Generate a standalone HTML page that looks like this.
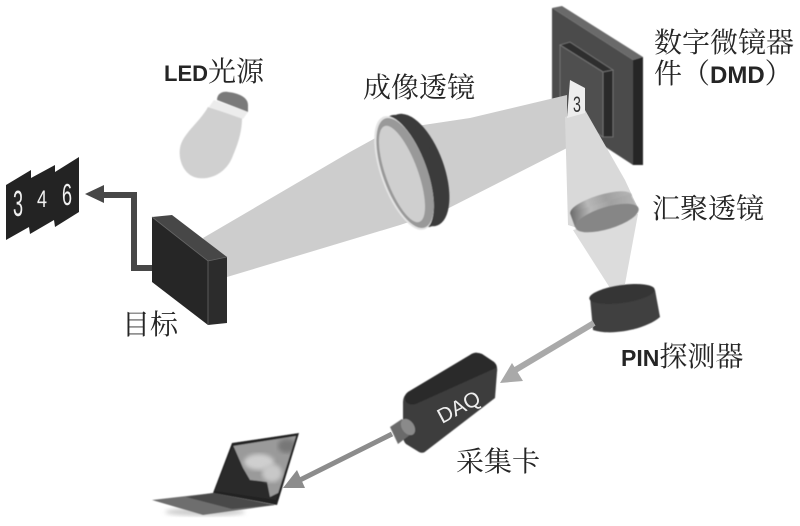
<!DOCTYPE html>
<html><head><meta charset="utf-8">
<style>
html,body{margin:0;padding:0;background:#fff;width:800px;height:526px;overflow:hidden}
svg{display:block}
.t{font-family:"Liberation Serif","Noto Serif CJK SC",serif;font-size:28px;fill:#252525}
.b{font-family:"Liberation Sans",sans-serif;font-weight:bold;fill:#252525}
</style></head>
<body>
<svg width="800" height="526" viewBox="0 0 800 526" xmlns="http://www.w3.org/2000/svg">
<defs>
<linearGradient id="lens" x1="0" y1="0" x2="1" y2="0"><stop offset="0" stop-color="#6a6a6a"/><stop offset=".3" stop-color="#b8b8b8"/><stop offset=".6" stop-color="#a0a0a0"/><stop offset="1" stop-color="#b5b5b5"/></linearGradient>
<filter id="bl"><feGaussianBlur stdDeviation="2"/></filter>
<filter id="s"><feGaussianBlur stdDeviation=".5"/></filter>
<clipPath id="sc"><polygon points="233,446 296,436 276,500 215,491"/></clipPath>
</defs>

<!-- DMD -->
<g filter="url(#s)">
<polygon points="552,8 562,6 643,57 633,60" fill="#6a6a6a"/>
<polygon points="552,8 633,60 633,165 552,112" fill="#4c4c4c"/>
<polygon points="633,60 643,57 643,165 633,165" fill="#262626"/>
<polygon points="560,45 570,42 613,70 603,72" fill="#2e2e2e" stroke="#777" stroke-width=".8"/>
<polygon points="560,45 603,72 603,137 560,110" fill="#505050" stroke="#777" stroke-width=".8"/>
<polygon points="603,72 613,70 613,137 603,137" fill="#2c2c2c" stroke="#777" stroke-width=".8"/>
</g>

<!-- beams -->
<polygon points="203,238 350,152 390,130 470,118 567,95 567,148 445,210 400,225 227,277" fill="#cdcdcd"/>
<polygon points="565,117 585,110 625,180 638,208 600,235 568,225" fill="#d9d9d9"/>
<polygon points="573,230 638,214 625,284 610,288" fill="#dcdcdc"/>
<polygon points="570,80 585,88 585,113 567,118" fill="#ededed"/>
<text transform="translate(573,112) scale(.95,1.5)" font-family="Liberation Sans,sans-serif" font-size="15" fill="#333">3</text>

<!-- collimating lens -->
<g filter="url(#s)">
<ellipse cx="601" cy="204" rx="32" ry="9" transform="rotate(-17 601 204)" fill="url(#lens)"/>
<polygon points="570,213 630,194 638,208 575,227" fill="url(#lens)"/>
<ellipse cx="607" cy="218" rx="33" ry="11" transform="rotate(-17 607 218)" fill="#868686"/>
</g>

<!-- imaging lens -->
<g filter="url(#s)">
<ellipse cx="417" cy="170" rx="27" ry="59" transform="rotate(-20 417 170)" fill="#3a3a3a"/>
<ellipse cx="411" cy="171" rx="26" ry="59" transform="rotate(-20 411 171)" fill="#3a3a3a"/>
<ellipse cx="404" cy="173" rx="23" ry="60" transform="rotate(-20 404 173)" fill="#e4e4e4"/>
<ellipse cx="405" cy="173" rx="22" ry="58" transform="rotate(-20 405 173)" fill="#999"/>
<ellipse cx="402" cy="174" rx="16" ry="51" transform="rotate(-20 402 174)" fill="#cfcfcf"/>
</g>

<!-- target -->
<polygon points="152,217 172,215 227,257 208,261" fill="#474747"/>
<polygon points="152,217 208,261 208,325 152,282" fill="#262626"/>
<polygon points="208,261 227,257 227,323 208,325" fill="#2c2c2c"/>
<path d="M152,217 L208,261 L227,257 M208,261 V325" fill="none" stroke="#666" stroke-width=".8"/>

<!-- arrow target to tiles -->
<path d="M152,268 H134 V195 H104" fill="none" stroke="#474747" stroke-width="6"/>
<polygon points="85,194 104,185 104,203" fill="#474747"/>

<!-- tiles -->
<polygon points="6,185 31,170 31,178 55,165 55,172 79,157 79,212 55,227 54,220 30,234 29,227 6,240" fill="#232323"/>
<g font-family="Liberation Sans,sans-serif" fill="#f0f0f0">
<text transform="translate(13,216) scale(.95,1.9)" font-size="19">3</text>
<text transform="translate(37,207) scale(.95,1.25)" font-size="19">4</text>
<text transform="translate(62,205) scale(1,1.7)" font-size="18">6</text>
</g>

<!-- bulb -->
<g filter="url(#s)">
<path d="M208,107 L242,118 C242,135 236,148 232,158 C226,172 212,180 198,178 C184,176 178,160 180,148 C182,134 200,122 208,107Z" fill="#d0d0d0"/>
<polygon points="214,100 248,112 243,119 209,107" fill="#ececec"/>
<path d="M217,100 C217,94 222,91 228,92 C238,93 248,97 248,105 L248,112 Z" fill="#7a7a7a"/>
</g>

<!-- PIN -->
<g filter="url(#s)">
<path d="M590,297 L593,330 C610,336 645,330 660,317 L655,290 Z" fill="#414141"/>
<ellipse cx="622" cy="294" rx="33" ry="9" transform="rotate(-8 622 294)" fill="#353535"/>
</g>

<!-- PIN to DAQ arrow -->
<line x1="594" y1="323" x2="512" y2="372" stroke="#a9a9a9" stroke-width="6"/>
<polygon points="500,383 512,363 523,381" fill="#a9a9a9"/>

<!-- DAQ to laptop arrow -->
<line x1="392" y1="434" x2="298" y2="481" stroke="#8c8c8c" stroke-width="5"/>
<polygon points="283,488 297,470 305,488" fill="#8c8c8c"/>

<!-- DAQ -->
<g filter="url(#s)">
<path d="M470,355 Q475,351 482,354 L494,362 Q498,366 497,372 L495,398 L426,451 Q423,454 419,452 L406,444 Q403,441 403,436 L403,402 Q403,396 408,392 Z" fill="#3e3e3e"/>
<path d="M470,355 Q475,351 482,354 L494,362 Q498,366 496,368 L416,404 Q410,406 406,402 Q403,396 408,392 Z" fill="#2c2c2c"/>
<polygon points="390,427 402,419 415,431 398,444" fill="#6a6a6a"/>
<ellipse cx="408" cy="427" rx="6" ry="9" transform="rotate(-35 408 427)" fill="#8a8a8a"/>
</g>
<text transform="translate(442,424) rotate(-28)" font-family="Liberation Sans,sans-serif" font-size="21" fill="#eee">DAQ</text>

<!-- laptop -->
<g filter="url(#s)">
<ellipse cx="205" cy="512" rx="40" ry="4" fill="#ccc" filter="url(#bl)"/>
<polygon points="152,500 213,493 275,505 203,515" fill="#6e6e6e"/>
<polygon points="186,497 213,493 275,505 232,509" fill="#4a4a4a"/>
<polygon points="232,443 299,433 277,505 213,493" fill="#222"/>
<polygon points="233,446 296,436 276,500 215,491" fill="#2a2a2a"/>
<g clip-path="url(#sc)">
<polygon points="233,445 297,435 280,492 270,497 267,482 250,480 243,468" fill="#9a9a9a"/>
<ellipse cx="259" cy="462" rx="15" ry="8" fill="#cfcfcf" filter="url(#bl)"/>
<ellipse cx="272" cy="473" rx="10" ry="9" fill="#c8c8c8" filter="url(#bl)"/>
<ellipse cx="287" cy="446" rx="9" ry="7" fill="#777" filter="url(#bl)"/>
</g>
</g>

<!-- labels -->
<text x="164" y="81" class="t"><tspan class="b" style="font-size:22px">LED</tspan>光源</text>
<text x="363" y="97" class="t">成像透镜</text>
<text x="654" y="52" class="t">数字微镜器</text>
<text x="654" y="83" class="t">件（<tspan class="b" style="font-size:24px">DMD</tspan>）</text>
<text x="652" y="218" class="t">汇聚透镜</text>
<text x="621" y="366" class="t"><tspan class="b" style="font-size:23px">PIN</tspan>探测器</text>
<text x="456" y="471" class="t">采集卡</text>
<text x="122" y="334" class="t">目标</text>
</svg>
</body></html>
